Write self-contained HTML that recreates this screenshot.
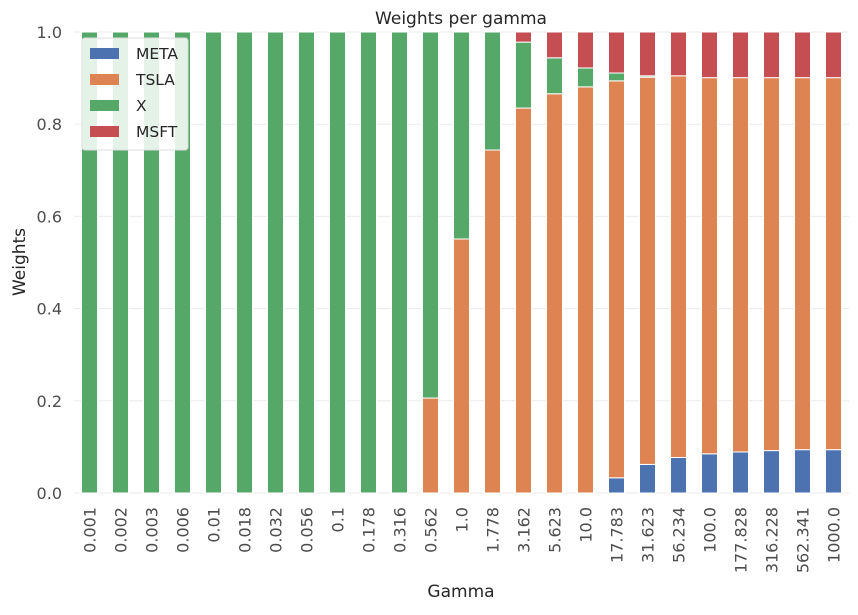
<!DOCTYPE html>
<html><head><meta charset="utf-8"><style>
body{margin:0;background:#fff;}
svg text{font-family:"DejaVu Sans","Liberation Sans",sans-serif;}
</style></head><body>
<svg width="858" height="610" xmlns="http://www.w3.org/2000/svg" id="chart">
<text x="461" y="24" text-anchor="middle" font-size="17" fill="#262626">Weights per gamma</text>
<text x="461" y="597" text-anchor="middle" font-size="17" fill="#262626">Gamma</text>
<text transform="translate(25,262) rotate(-90)" text-anchor="middle" font-size="17" fill="#262626">Weights</text>
<g id="grid"></g><g id="bars"></g><g id="ticks"></g><g id="legend"></g>
</svg>
<script>
const categories=["0.001","0.002","0.003","0.006","0.01","0.018","0.032","0.056","0.1","0.178","0.316","0.562","1.0","1.778","3.162","5.623","10.0","17.783","31.623","56.234","100.0","177.828","316.228","562.341","1000.0"];
const seriesNames=["META","TSLA","X","MSFT"];
const META=[0,0,0,0,0,0,0,0,0,0,0,0,0,0,0,0,0,0.033,0.062,0.077,0.085,0.089,0.092,0.094,0.094];
const TSLA=[0,0,0,0,0,0,0,0,0,0,0,0.206,0.551,0.744,0.835,0.866,0.881,0.861,0.840,0.828,0.816,0.812,0.809,0.807,0.807];
const X=[1,1,1,1,1,1,1,1,1,1,1,0.794,0.449,0.256,0.143,0.078,0.041,0.017,0.003,0,0,0,0,0,0];
const MSFT=[0,0,0,0,0,0,0,0,0,0,0,0,0,0,0.022,0.056,0.078,0.089,0.095,0.095,0.099,0.099,0.099,0.099,0.099];
const yTicks=[0,0.2,0.4,0.6,0.8,1.0];
const colors=["#4c72b0","#dd8452","#55a868","#c44e52"];
const NS="http://www.w3.org/2000/svg";
const L=74,R=849,T=32,B=493;
const step=(R-L)/categories.length,bw=16;
const xPos=i=>L+step*(i+0.5);
const yPos=v=>B-(B-T)*v;
function mk(tag,attrs,parent){const e=document.createElementNS(NS,tag);for(const k in attrs)e.setAttribute(k,attrs[k]);parent.appendChild(e);return e;}
const grid=document.getElementById('grid'),bars=document.getElementById('bars'),ticks=document.getElementById('ticks'),leg=document.getElementById('legend');
yTicks.forEach(v=>{
 const l=mk('line',{x1:L,x2:R,y1:yPos(v),y2:yPos(v),stroke:'#ebebeb','stroke-width':1},grid);
 
 
 const t=mk('text',{x:L-12,y:yPos(v)+6,'text-anchor':'end','font-size':16,fill:'#4d4d4d'},ticks);
 t.textContent=v.toFixed(1);
 
 
});
const series=[META,TSLA,X,MSFT];
categories.forEach((c,i)=>{
 let cum=0;
 series.forEach((s,j)=>{
  const v=s[i];
  if(v>0){
   const r=mk('rect',{x:xPos(i)-bw/2,y:yPos(cum+v),width:bw,height:yPos(cum)-yPos(cum+v),fill:colors[j],stroke:'#fff','stroke-width':1},bars);
   
   
  }
  cum+=v;
 });
 const t=mk('text',{transform:`translate(${xPos(i)+6},${B+14}) rotate(-90)`,'text-anchor':'end','font-size':16,fill:'#4d4d4d'},ticks);
 t.textContent=c;
 
 
});
const lb=mk('rect',{x:82,y:38,width:106,height:112,rx:3,fill:'#fff','fill-opacity':0.85,stroke:'#ddd'},leg);


seriesNames.forEach((n,j)=>{
 const y=48+j*26;
 const r=mk('rect',{x:90,y:y,width:29,height:11,fill:colors[j]},leg);
 
 
 const t=mk('text',{x:136,y:y+11,'font-size':15.5,fill:'#262626'},leg);
 t.textContent=n;
 
 
});
</script>
</body></html>
